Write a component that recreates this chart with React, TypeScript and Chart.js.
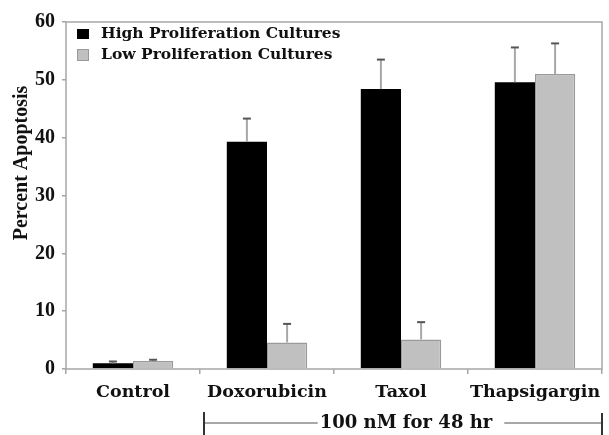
import React, { useEffect, useRef } from "react";
import { Chart, registerables } from "chart.js";

Chart.register(...registerables);

const categories = ["Control", "Doxorubicin", "Taxol", "Thapsigargin"];
const seriesNames = ["High Proliferation Cultures", "Low Proliferation Cultures"];
const highValues = [1.0, 39.3, 48.4, 49.6];
const highErrors = [0.3, 4.0, 5.1, 6.0];
const lowValues = [1.4, 4.6, 5.1, 51.0];
const lowErrors = [0.2, 3.2, 3.0, 5.3];
const yMin = 0;
const yMax = 60;
const yStep = 10;
const yTitle = "Percent Apoptosis";
const bracketLabel = "100 nM for 48 hr";
const bracketFromCategory = 1;

const errors = [highErrors, lowErrors];
const fills = ["#000000", "#c0c0c0"];
const edges = ["#000000", "#9a9a9a"];

const errorBarsPlugin = {
  id: "errorBars",
  afterDatasetsDraw(chart: any) {
    const ctx = chart.ctx;
    const y = chart.scales.y;
    chart.data.datasets.forEach((ds: any, i: number) => {
      const meta = chart.getDatasetMeta(i);
      meta.data.forEach((bar: any, j: number) => {
        const v = ds.data[j];
        const top = y.getPixelForValue(v + errors[i][j]);
        ctx.save();
        ctx.strokeStyle = "#a8a8a8";
        ctx.lineWidth = 2;
        ctx.beginPath();
        ctx.moveTo(bar.x, bar.y);
        ctx.lineTo(bar.x, top);
        ctx.stroke();
        ctx.strokeStyle = "#555555";
        ctx.beginPath();
        ctx.moveTo(bar.x - 4, top);
        ctx.lineTo(bar.x + 4, top);
        ctx.stroke();
        ctx.restore();
      });
    });
  },
};

const decorPlugin = {
  id: "decor",
  afterDraw(chart: any) {
    const ctx = chart.ctx;
    const a = chart.chartArea;
    const x = chart.scales.x;
    ctx.save();
    // frame
    ctx.strokeStyle = "#a6a6a6";
    ctx.lineWidth = 1.5;
    ctx.strokeRect(a.left, a.top, a.right - a.left, a.bottom - a.top);

    // legend
    const lx = a.left + 11;
    const rows = [a.top + 12, a.top + 33];
    ctx.font = "bold 15.5px 'DejaVu Serif'";
    ctx.textBaseline = "middle";
    ctx.textAlign = "left";
    rows.forEach((ry, i) => {
      ctx.fillStyle = fills[i];
      ctx.fillRect(lx, ry - 5, 12, 10);
      if (i === 1) {
        ctx.strokeStyle = edges[i];
        ctx.lineWidth = 1;
        ctx.strokeRect(lx + 0.5, ry - 5.5, 11, 11);
      }
      ctx.fillStyle = "#111111";
      ctx.fillText(seriesNames[i], lx + 24, ry);
    });

    // y title
    ctx.save();
    ctx.translate(22, 163);
    ctx.rotate(-Math.PI / 2);
    ctx.font = "bold 20px 'Liberation Serif'";
    ctx.textAlign = "center";
    ctx.textBaseline = "middle";
    ctx.fillStyle = "#111111";
    ctx.fillText(yTitle, 0, 0);
    ctx.restore();

    // bracket
    const p0 = x.getPixelForValue(bracketFromCategory - 1);
    const p1 = x.getPixelForValue(bracketFromCategory);
    const left = (p0 + p1) / 2 + 4;
    const right = a.right;
    const by = 423;
    ctx.font = "bold 18px 'DejaVu Serif'";
    ctx.textAlign = "center";
    ctx.textBaseline = "middle";
    const mid = (left + right) / 2 + 3;
    const tw = ctx.measureText(bracketLabel).width;
    ctx.fillStyle = "#111111";
    ctx.fillText(bracketLabel, mid, by);
    ctx.strokeStyle = "#8a8a8a";
    ctx.lineWidth = 1.5;
    ctx.beginPath();
    ctx.moveTo(left, by);
    ctx.lineTo(mid - tw / 2 - 2, by);
    ctx.moveTo(mid + tw / 2 + 12, by);
    ctx.lineTo(right, by);
    ctx.stroke();
    ctx.strokeStyle = "#333333";
    ctx.lineWidth = 2;
    ctx.beginPath();
    ctx.moveTo(left, 412);
    ctx.lineTo(left, 435);
    ctx.moveTo(right, 413);
    ctx.lineTo(right, 435);
    ctx.stroke();
    ctx.restore();
  },
};

export default function App() {
  const ref = useRef<HTMLCanvasElement | null>(null);
  useEffect(() => {
    document.body.style.margin = "0";
    if (!ref.current) return;
    const chart = new Chart(ref.current, {
      type: "bar",
      data: {
        labels: categories,
        datasets: [
          {
            label: seriesNames[0],
            data: highValues,
            backgroundColor: fills[0],
            borderColor: edges[0],
            borderWidth: 0,
            categoryPercentage: 0.6,
            barPercentage: 1,
          },
          {
            label: seriesNames[1],
            data: lowValues,
            backgroundColor: fills[1],
            borderColor: edges[1],
            borderWidth: 1.5,
            categoryPercentage: 0.6,
            barPercentage: 1,
          },
        ],
      },
      options: {
        responsive: false,
        animation: false,
        layout: { padding: { left: 0, right: 7, top: 22, bottom: 0 } },
        plugins: {
          legend: { display: false },
          tooltip: { enabled: false },
          title: { display: false },
        },
        scales: {
          x: {
            afterFit(scale: any) {
              scale.height = 66;
            },
            border: { display: false },
            grid: {
              drawOnChartArea: false,
              drawTicks: true,
              tickLength: 5,
              color: "#a6a6a6",
              lineWidth: 1.5,
            },
            ticks: {
              padding: 8,
              minRotation: 0,
              maxRotation: 0,
              autoSkip: false,
              color: "#111111",
              font: { family: "'DejaVu Serif'", weight: "bold", size: 17.5 },
            },
          },
          y: {
            min: yMin,
            max: yMax,
            afterFit(scale: any) {
              scale.width = 66;
            },
            border: { display: false },
            grid: {
              drawOnChartArea: false,
              drawTicks: true,
              tickLength: 4,
              color: "#a6a6a6",
              lineWidth: 1.5,
            },
            ticks: {
              stepSize: yStep,
              padding: 7,
              color: "#111111",
              font: { family: "'Liberation Serif'", weight: "bold", size: 20 },
            },
          },
        },
      },
      plugins: [errorBarsPlugin, decorPlugin],
    } as any);
    return () => chart.destroy();
  }, []);
  return (
    <div style={{ position: "absolute", left: 0, top: 0, width: 609, height: 435, background: "#fff" }}>
      <canvas ref={ref} width={609} height={435} />
    </div>
  );
}
